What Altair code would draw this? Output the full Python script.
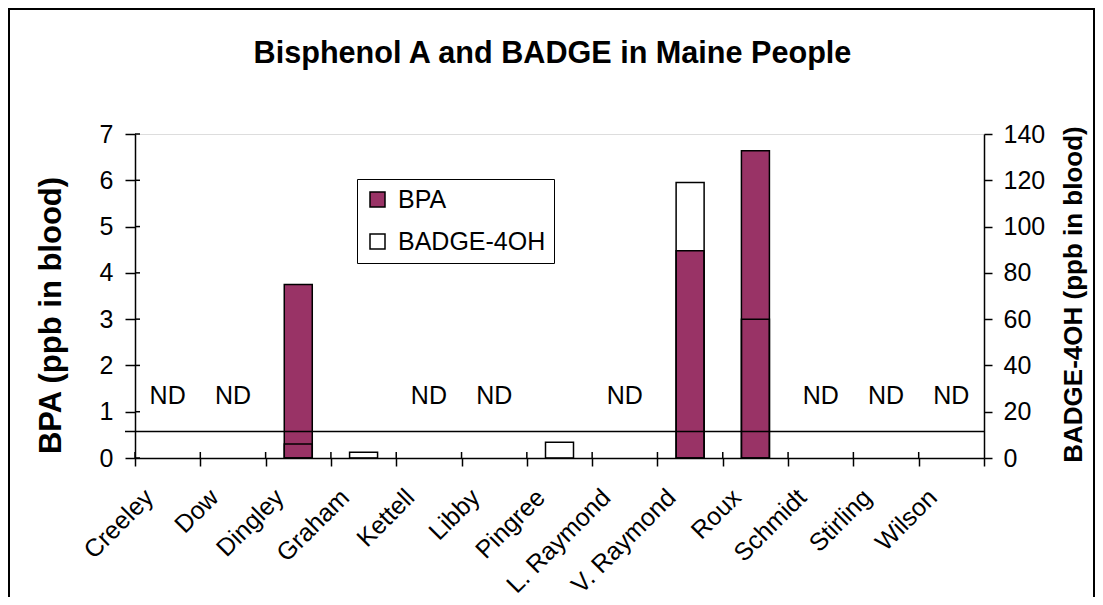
import altair as alt
import pandas as pd

# ---- data ----
names = ["Creeley", "Dow", "Dingley", "Graham", "Kettell", "Libby", "Pingree",
         "L. Raymond", "V. Raymond", "Roux", "Schmidt", "Stirling", "Wilson"]
bpa_values = [0, 0, 3.75, 0, 0, 0, 0, 0, 4.48, 6.64, 0, 0, 0]          # ppb, left axis
badge_values = [0, 0, 6.0, 2.5, 0, 0, 6.8, 0, 119, 60, 0, 0, 0]        # ppb, right axis
nd_labels = ["ND", "ND", "", "", "ND", "ND", "", "ND", "", "", "ND", "ND", "ND"]
detection_limit = [0.57]
left_ticks = [0, 1, 2, 3, 4, 5, 6, 7]
right_ticks = [0, 20, 40, 60, 80, 100, 120, 140]
series_names = ["BPA", "BADGE-4OH"]
series_colors = ["#993366", "#FFFFFF"]

FONT = "Liberation Sans"
W, H = 849, 324
ND_LEVEL = 1.34

bpa_df = pd.DataFrame({"name": names, "value": bpa_values, "series": series_names[0]})
badge_df = pd.DataFrame({"name": names, "value": badge_values})
nd_df = pd.DataFrame({"name": names, "label": nd_labels})
lim_df = pd.DataFrame({"value": detection_limit})
tick_df = pd.DataFrame({"name": names})
ytick_df = pd.DataFrame({"value": left_ticks})
frame_df = pd.DataFrame({"k": [0]})

x_axis = alt.Axis(title=None, labelAngle=-45, labelAlign="right", labelBaseline="middle",
                  labelFontSize=25, labelFont=FONT, labelColor="black", labelOffset=-19,
                  labelPadding=27, tickSize=8, tickBand="extent", tickWidth=1.5,
                  tickColor="black", domainColor="black", domainWidth=1.5,
                  labelOverlap=False, grid=False)
x_scale = alt.Scale(domain=names, paddingInner=0, paddingOuter=0)

def xenc(**kw):
    return alt.X("name:N", sort=names, scale=x_scale, axis=x_axis, **kw)

left_scale = alt.Scale(domain=[0, 7], nice=False)
left_axis = alt.Axis(values=left_ticks, orient="left", title="BPA (ppb in blood)",
                     titleFontSize=31, titleFontWeight="bold", titleFont=FONT,
                     titleColor="black", titleAngle=-90, titleX=-84, titleY=181,
                     titleBaseline="middle", titleAlign="center",
                     labelFontSize=25, labelFont=FONT, labelColor="black",
                     labelPadding=12, tickSize=10, tickWidth=1.5, tickColor="black",
                     domainColor="black", domainWidth=1.5, grid=False, format="d")
right_scale = alt.Scale(domain=[0, 140], nice=False)
right_axis = alt.Axis(values=right_ticks, orient="right", title="BADGE-4OH (ppb in blood)",
                      titleFontSize=26, titleFontWeight="bold", titleFont=FONT,
                      titleColor="black", titleAngle=-90, titleX=89, titleY=160,
                      titleBaseline="middle", titleAlign="center",
                      labelFontSize=25, labelFont=FONT, labelColor="black",
                      labelPadding=11, tickSize=8, tickWidth=1.5, tickColor="black",
                      domainColor="black", domainWidth=1.5, grid=False, format="d")

def yleft(field="value:Q"):
    return alt.Y(field, scale=left_scale, axis=left_axis)

frame = alt.Chart(frame_df).mark_rect(fillOpacity=0, stroke="black", strokeWidth=2).encode(
    x=alt.value(-126), x2=alt.value(959), y=alt.value(-125), y2=alt.value(H + 200))

bpa_bars = alt.Chart(bpa_df).transform_filter("datum.value > 0").mark_bar(
    size=28, stroke="black", strokeWidth=1.5).encode(
    x=xenc(), y=yleft(),
    color=alt.Color("series:N",
                    scale=alt.Scale(domain=series_names, range=series_colors),
                    legend=alt.Legend(title=None, orient="none", legendX=222, legendY=45,
                                      fillColor="white", strokeColor="black", padding=8,
                                      labelFontSize=25, labelFont=FONT, labelColor="black",
                                      symbolType="square", symbolSize=225,
                                      symbolStrokeColor="black", symbolStrokeWidth=1.5,
                                      rowPadding=16, labelOffset=8, symbolOpacity=1)))

inner_xticks = alt.Chart(tick_df).mark_rule(color="black", strokeWidth=1.5).encode(
    x=xenc(bandPosition=0), y=alt.value(H), y2=alt.value(H - 6))

inner_yticks = alt.Chart(ytick_df).mark_rule(color="black", strokeWidth=1.5).encode(
    y=yleft(), x=alt.value(0), x2=alt.value(5))

lim_rule = alt.Chart(lim_df).mark_rule(color="black", strokeWidth=1.5).encode(
    y=yleft(), x=alt.value(-10), x2=alt.value(W))

nd_text = alt.Chart(nd_df).transform_filter("datum.label != ''").mark_text(
    fontSize=25, font=FONT, color="black", align="center", baseline="middle").encode(
    x=xenc(), y=alt.Y(datum=ND_LEVEL, scale=left_scale, axis=left_axis), text="label:N")

badge_bars = alt.Chart(badge_df).transform_filter("datum.value > 0").mark_bar(
    size=28, fillOpacity=0, fill="white", stroke="black", strokeWidth=1.5).encode(
    x=xenc(), y=alt.Y("value:Q", scale=right_scale, axis=right_axis))

left = alt.layer(frame, bpa_bars, inner_xticks, inner_yticks, lim_rule, nd_text)
chart = alt.layer(left, badge_bars).resolve_scale(y="independent").properties(
    width=W, height=H,
    padding={"left": 127, "top": 126, "right": 111, "bottom": 139},
    autosize=alt.AutoSizeParams(type="none"),
    title=alt.TitleParams("Bisphenol A and BADGE in Maine People", fontSize=30.6,
                          fontWeight="bold", font=FONT, color="black", anchor="middle",
                          dx=-7, offset=-62),
).configure_view(fill="#C0C0C0", stroke="#808080", strokeWidth=1.5
).configure(background="white")

chart.save("out.html", embed_options={"renderer": "svg", "actions": False})
